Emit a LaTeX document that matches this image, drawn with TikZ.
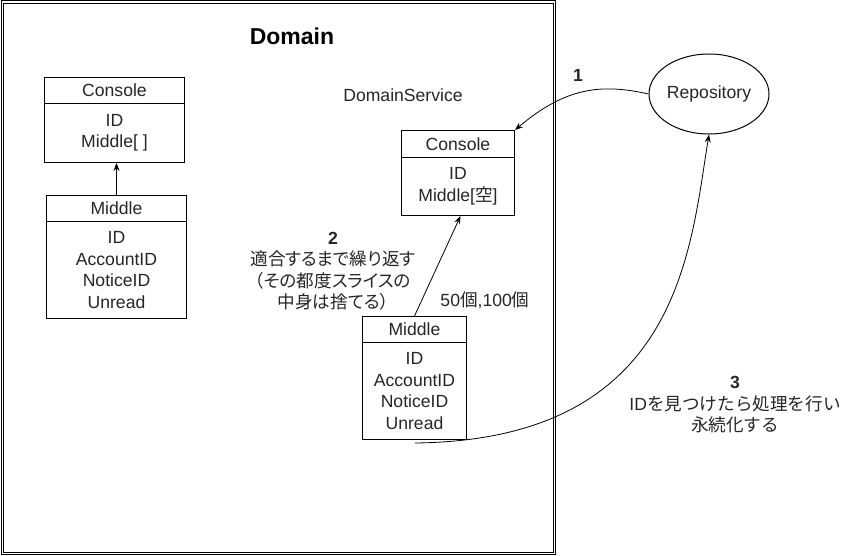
\documentclass[tikz,border=0pt]{standalone}
\usepackage{fontspec}
\setmainfont{Liberation Sans}
\newfontfamily\jp{Noto Sans CJK JP}
\newfontfamily\jpp[RawFeature=+palt]{Noto Sans CJK JP}
\usetikzlibrary{shapes.geometric,arrows.meta,calc}
\begin{document}
\begin{tikzpicture}[x=1pt,y=-1pt,
  every node/.style={font=\fontsize{17.6}{21.5}\selectfont, inner sep=0pt, text=black!85},
  cell/.style={draw=black, line width=1pt, anchor=north west, align=center},
  lbl/.style={align=center},
  arr/.style={-{Stealth[length=8pt,width=6pt]}, line width=0.8pt}
]
\useasboundingbox (0,0) rectangle (847,556);
\fill[white] (0,0) rectangle (847,556);
% Domain frame
\draw[double, double distance=1.5pt, line width=1pt] (2.25,2.25) rectangle (554.5,553.5);
\node[font=\bfseries\fontsize{23}{28}\selectfont, text=black] (dom) at (292,36) {Domain};
% left Console
\node[cell, minimum width=140pt, minimum height=26pt] (lch) at (44,77) {Console};
\node[cell, minimum width=140pt, minimum height=59pt] (lcb) at (44,103) {ID\\Middle[ ]};
% left Middle
\node[cell, minimum width=140pt, minimum height=26pt] (lmh) at (46,195) {Middle};
\node[cell, minimum width=140pt, minimum height=97pt] (lmb) at (46,221) {ID\\AccountID\\NoticeID\\Unread};
\draw[arr] (lmh.north) -- (lmh.north |- lcb.south);
% DomainService
\node (ds) at (403,95) {DomainService};
% right Console
\node[cell, minimum width=113pt, minimum height=27pt] (rch) at (401,130) {Console};
\node[cell, minimum width=113pt, minimum height=58pt] (rcb) at (401,157) {ID\\Middle[{\jp 空}]};
% right Middle
\node[cell, minimum width=104pt, minimum height=26pt] (rmh) at (362,316) {Middle};
\node[cell, minimum width=104pt, minimum height=97pt] (rmb) at (362,342) {ID\\AccountID\\NoticeID\\Unread};
\coordinate (c2) at ([xshift=2.5pt]rcb.south);
\draw[arr] (rmh.north) -- (c2);
% Repository
\node[draw=black, ellipse, line width=1pt, minimum width=120pt, minimum height=80pt] (rep) at (709,94) {Repository};
% arrow 1
\draw[arr] (rep.west) .. controls (600,83) and (565,88) .. (rch.north east);
\node[font=\bfseries\fontsize{17.6}{21.5}\selectfont] (n1) at (578,75) {1};
% label 2
\node[lbl] (n2) at (333,271) {\textbf{2}\\{\jpp 適合するまで繰り返す}\\{\jpp （その都度スライスの}\\{\jpp 中身は捨てる）}};
\node (n50) at (485,300) {50{\jp 個},100{\jp 個}};
% arrow 3
\coordinate (s3) at (415,443);
\draw[arr] (s3) .. controls (680,440) and (690,250) .. (rep.south);
\node[lbl] (n3) at (735,405) {\textbf{3}\\ID{\jp を見つけたら処理を行い}\\{\jp 永続化する}};
\end{tikzpicture}
\end{document}
